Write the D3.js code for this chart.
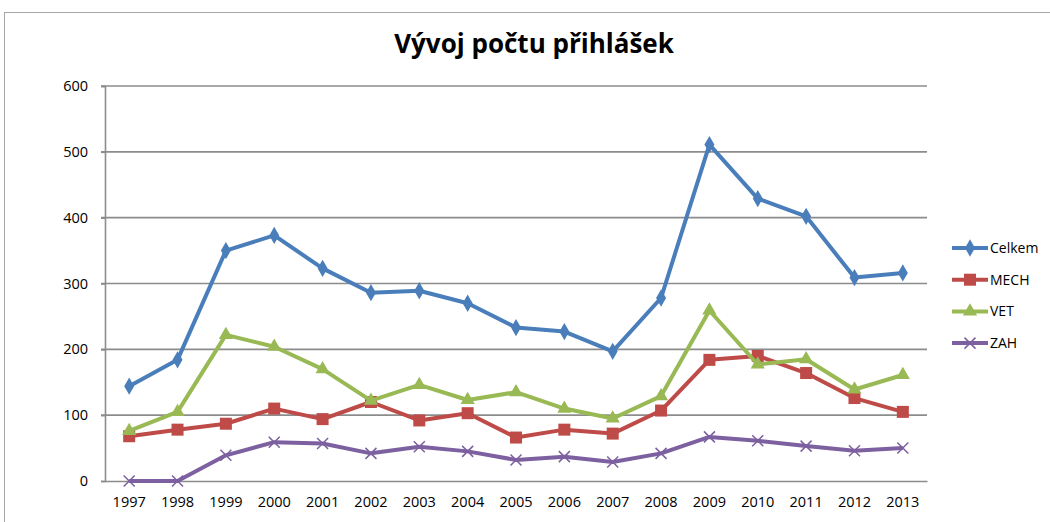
<!DOCTYPE html>
<html>
<head>
<meta charset="utf-8">
<script src="https://cdn.jsdelivr.net/npm/d3@7"></script>
<style>
  body { margin: 0; background: #fff; }
  svg text { font-family: "Open Sans", "DejaVu Sans", sans-serif; fill: #000; }
</style>
</head>
<body>
<div id="chart"></div>
<script>
// Data
const years  = ["1997","1998","1999","2000","2001","2002","2003","2004","2005","2006","2007","2008","2009","2010","2011","2012","2013"];
const celkem = [144, 184, 350, 373, 323, 286, 289, 270, 233, 227, 197, 278, 511, 429, 402, 309, 316];
const mech   = [68, 78, 87, 110, 94, 120, 92, 103, 66, 78, 72, 107, 184, 190, 164, 126, 105];
const vet    = [76, 105, 222, 204, 170, 122, 146, 123, 135, 110, 95, 129, 259, 177, 185, 139, 161];
const zah    = [0, 0, 39, 59, 57, 42, 52, 45, 32, 37, 29, 42, 67, 61, 53, 46, 50];
const yTicks = [0, 100, 200, 300, 400, 500, 600];
const seriesNames  = ["Celkem", "MECH", "VET", "ZAH"];
const seriesColors = ["#4a7ebb", "#be4b48", "#98b954", "#7d60a0"];
const seriesShapes = ["diamond", "square", "triangle", "x"];

const series = [celkem, mech, vet, zah].map((vals, i) => ({
    name: seriesNames[i], color: seriesColors[i], shape: seriesShapes[i], values: vals
}));

const width = 1050, height = 522;
const margin = {top: 86, right: 123, bottom: 41, left: 105};

const svg = d3.select("#chart").append("svg")
    .attr("width", width)
    .attr("height", height);

// Outer chart frame
svg.append("rect")
    .attr("x", 4.5).attr("y", 12.5)
    .attr("width", width + 10).attr("height", height + 10)
    .attr("fill", "none")
    .attr("stroke", "#a6a6a6")
    .attr("stroke-width", 1);

// Title
svg.append("text")
    .attr("x", 534).attr("y", 53)
    .attr("text-anchor", "middle")
    .style("font-size", "26px")
    .style("font-weight", "bold")
    .text("Vývoj počtu přihlášek");

const g = svg.append("g")
    .attr("transform", "translate(" + margin.left + "," + margin.top + ")");

const w = width - margin.left - margin.right;
const h = height - margin.top - margin.bottom;

const x = d3.scaleBand().domain(years).range([0, w]);
const y = d3.scaleLinear().domain([0, 600]).range([h, 0]);
const cx = d => x(d) + x.bandwidth() / 2;

// Gridlines
g.append("g").selectAll("line")
    .data(yTicks.filter(t => t > 0))
    .join("line")
    .attr("x1", -4).attr("x2", w)
    .attr("y1", d => y(d)).attr("y2", d => y(d))
    .attr("stroke", "#8c8c8c")
    .attr("stroke-width", 1.6);

// Y axis
const yAxis = d3.axisLeft(y).tickValues(yTicks).tickSize(4).tickPadding(13);
g.append("g").attr("class", "y axis").call(yAxis)
    .call(s => s.select(".domain").attr("stroke", "#8c8c8c").attr("stroke-width", 1.6))
    .call(s => s.selectAll(".tick line").attr("stroke", "#8c8c8c").attr("stroke-width", 1.6))
    .call(s => s.selectAll("text").style("font-size", "14.5px").attr("fill", "#000"));

// X axis
const xAxis = d3.axisBottom(x).tickSize(0).tickPadding(16);
g.append("g").attr("class", "x axis")
    .attr("transform", "translate(0," + h + ")")
    .call(xAxis)
    .call(s => s.select(".domain").attr("stroke", "#8c8c8c").attr("stroke-width", 1.6))
    .call(s => s.selectAll("text").style("font-size", "14.5px").attr("fill", "#000"));

// Marker shapes
function marker(sel, shape, color, size) {
    if (shape === "x") {
        const r = size / 2;
        sel.append("path")
            .attr("d", "M" + (-r) + "," + (-r) + "L" + r + "," + r + "M" + (-r) + "," + r + "L" + r + "," + (-r))
            .attr("stroke", color).attr("stroke-width", 1.5).attr("fill", "none");
        return;
    }
    let sym, area;
    if (shape === "diamond") { sym = d3.symbolDiamond; area = size * size * 0.6; }
    if (shape === "square")  { sym = d3.symbolSquare;  area = size * size; }
    if (shape === "triangle"){ sym = d3.symbolTriangle; area = size * size * 0.6; }
    sel.append("path")
        .attr("d", d3.symbol().type(sym).size(area)())
        .attr("fill", color);
}

const line = d3.line()
    .x((d, i) => cx(years[i]))
    .y(d => y(d));

series.forEach(s => {
    g.append("path")
        .attr("d", line(s.values))
        .attr("fill", "none")
        .attr("stroke", s.color)
        .attr("stroke-width", 4)
        .attr("stroke-linejoin", "round");

    g.append("g").selectAll("g")
        .data(s.values)
        .join("g")
        .attr("transform", (d, i) => "translate(" + cx(years[i]) + "," + y(d) + ")")
        .each(function() { marker(d3.select(this), s.shape, s.color, s.shape === "x" ? 11 : 12); });
});

// Legend
const legend = svg.append("g").attr("transform", "translate(952,248)");
series.forEach((s, i) => {
    const row = legend.append("g").attr("transform", "translate(0," + (i * 31.7) + ")");
    row.append("line")
        .attr("x1", 0).attr("x2", 36)
        .attr("stroke", s.color).attr("stroke-width", 4);
    const m = row.append("g").attr("transform", "translate(18,0)");
    marker(m, s.shape, s.color, s.shape === "x" ? 11 : 12);
    row.append("text")
        .attr("x", 38).attr("dy", "0.35em")
        .style("font-size", "14px")
        .text(s.name);
});
</script>
</body>
</html>
